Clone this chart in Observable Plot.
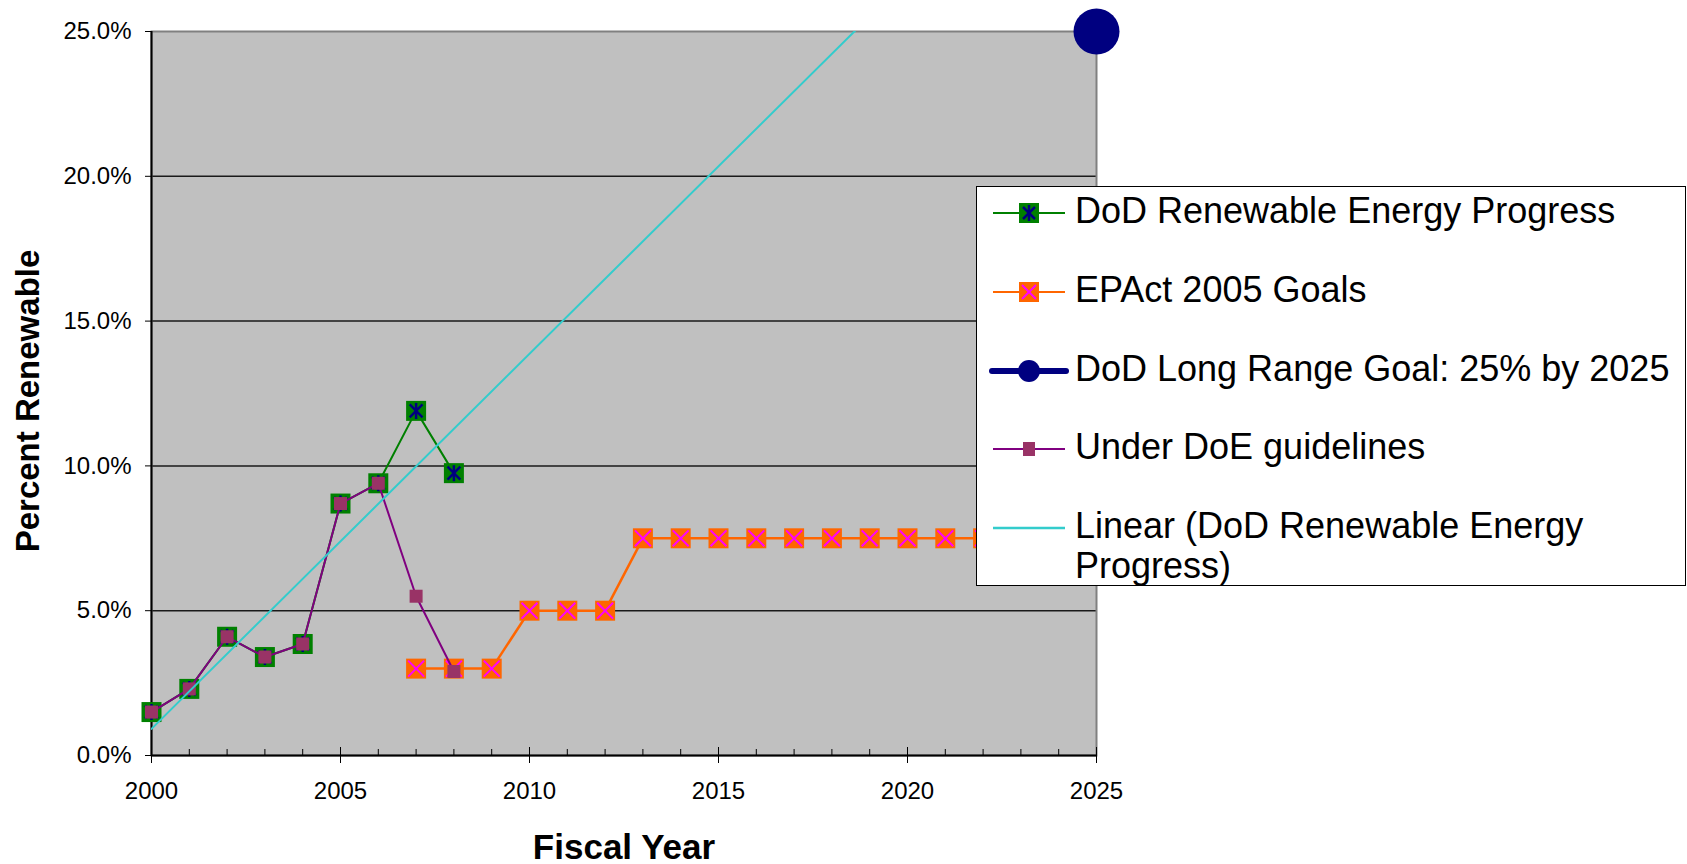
<!DOCTYPE html>
<html><head><meta charset="utf-8">
<script src="https://cdn.jsdelivr.net/npm/d3@7"></script>
<script src="https://cdn.jsdelivr.net/npm/@observablehq/plot@0.6"></script>
<style>
html,body{margin:0;padding:0;background:#fff;overflow:hidden;}
#wrap{position:relative;width:1687px;height:864px;font-family:"Liberation Sans",Arial,sans-serif;color:#000;}
#chart svg{display:block;}
.ttl{position:absolute;font-weight:bold;font-size:35px;line-height:35px;white-space:nowrap;transform:translate(-50%,-50%);}
#ytitle{font-size:33px;line-height:33px;transform:translate(-50%,-50%) rotate(-90deg);}
#legend{position:absolute;left:976px;top:186px;width:710px;height:400px;box-sizing:border-box;border:1.5px solid #000;background:#fff;overflow:hidden;}
.row{position:absolute;left:0;width:705px;height:40px;}
.row svg{position:absolute;left:12px;top:2px;overflow:visible;}
.row span{position:absolute;left:98px;top:0;line-height:40px;font-size:36px;white-space:nowrap;}
</style></head>
<body>
<div id="wrap">
  <div id="chart"></div>
  <div class="ttl" id="ytitle" style="left:27px;top:401px;">Percent Renewable</div>
  <div class="ttl" style="left:624px;top:846px;">Fiscal Year</div>
  <div id="legend"></div>
</div>
<script>
// ---- data ----
const dodYears = [2000, 2001, 2002, 2003, 2004, 2005, 2006, 2007, 2008];
const dodProgress = [1.5, 2.3, 4.1, 3.4, 3.85, 8.7, 9.4, 11.9, 9.75];
const doeGuidelines = [1.5, 2.3, 4.1, 3.4, 3.85, 8.7, 9.4, 5.5, 2.9];
const epactYears = [2007, 2008, 2009, 2010, 2011, 2012, 2013, 2014, 2015, 2016, 2017, 2018, 2019, 2020, 2021, 2022, 2023, 2024, 2025];
const epactGoals = [3, 3, 3, 5, 5, 5, 7.5, 7.5, 7.5, 7.5, 7.5, 7.5, 7.5, 7.5, 7.5, 7.5, 7.5, 7.5, 7.5];
const goalYears = [2025];
const goalValues = [25];
const allYears = [2000,2001,2002,2003,2004,2005,2006,2007,2008,2009,2010,2011,2012,2013,2014,2015,2016,2017,2018,2019,2020,2021,2022,2023,2024,2025];
const xTicks = [2000, 2005, 2010, 2015, 2020, 2025];
const yTicks = [0, 5, 10, 15, 20, 25];
const gridValues = [5, 10, 15, 20];
const seriesNames = ["DoD Renewable Energy Progress", "EPAct 2005 Goals", "DoD Long Range Goal: 25% by 2025", "Under DoE guidelines", "Linear (DoD Renewable Energy Progress)"];

const colors = {green:"#008000", navy:"#000080", orange:"#FF6600", magenta:"#FF00FF", purple:"#800080", maroon:"#993366", cyan:"#33CCCC"};

const dod = dodYears.map((x, i) => ({x, y: dodProgress[i]}));
const doe = dodYears.map((x, i) => ({x, y: doeGuidelines[i]}));
const epact = epactYears.map((x, i) => ({x, y: epactGoals[i]}));
const goal = goalYears.map((x, i) => ({x, y: goalValues[i]}));

// least-squares trend of DoD progress (Excel linear trendline), extended forward
const mx = d3.mean(dodYears), my = d3.mean(dodProgress);
const slope = d3.sum(dodYears, (x, i) => (x - mx) * (dodProgress[i] - my)) / d3.sum(dodYears, x => (x - mx) ** 2);
const icpt = my - slope * mx;
const trend = [2000, 2025].map(x => ({x, y: icpt + slope * x}));

const sq = side => side / Math.sqrt(Math.PI);

// Excel-style star marker: vertical bar plus an X
const excelStar = {
  draw(ctx, size) {
    const r = Math.sqrt(size / Math.PI);
    ctx.moveTo(0, -r); ctx.lineTo(0, r);
    ctx.moveTo(-0.8 * r, -0.8 * r); ctx.lineTo(0.8 * r, 0.8 * r);
    ctx.moveTo(-0.8 * r, 0.8 * r); ctx.lineTo(0.8 * r, -0.8 * r);
  }
};

const chart = Plot.plot({
  width: 1687, height: 864,
  marginLeft: 151, marginRight: 591, marginTop: 31, marginBottom: 109,
  style: {fontFamily: "'Liberation Sans', Arial, sans-serif", fontSize: "24px", color: "#000", background: "transparent", overflow: "visible"},
  x: {domain: [2000, 2025]},
  y: {domain: [0, 25]},
  marks: [
    Plot.frame({fill: "#C0C0C0"}),
    Plot.ruleY(gridValues, {stroke: "#1a1a1a", strokeWidth: 1.5}),
    Plot.frame({stroke: "#808080", strokeWidth: 2}),
    Plot.ruleX([2000], {stroke: "#000", strokeWidth: 2}),
    Plot.ruleY([0], {stroke: "#000", strokeWidth: 2}),
    Plot.tickX(allYears, {x: d => d, stroke: "#000", strokeWidth: 1, insetTop: 718}),
    Plot.tickX(xTicks, {x: d => d, stroke: "#000", strokeWidth: 1, insetTop: 716}),
    Plot.axisX({ticks: xTicks, tickFormat: "d", tickSize: 8, tickPadding: 18, label: null}),
    Plot.axisY({ticks: yTicks, tickFormat: d => d.toFixed(1) + "%", tickSize: 6, tickPadding: 14, label: null}),
    // DoD progress
    Plot.line(dod, {x: "x", y: "y", stroke: colors.green, strokeWidth: 2}),
    Plot.dot(dod, {x: "x", y: "y", symbol: "square", fill: colors.green, r: sq(20)}),
    Plot.dot(dod, {x: "x", y: "y", symbol: excelStar, fill: "none", stroke: colors.navy, strokeWidth: 2.5, r: 8}),
    // EPAct goals
    Plot.line(epact, {x: "x", y: "y", stroke: colors.orange, strokeWidth: 2.5}),
    Plot.dot(epact, {x: "x", y: "y", symbol: "square", fill: colors.orange, r: sq(20)}),
    Plot.dot(epact, {x: "x", y: "y", symbol: "times", stroke: colors.magenta, strokeWidth: 2, r: 7.3}),
    // Long range goal
    Plot.dot(goal, {x: "x", y: "y", fill: colors.navy, r: 23}),
    // DoE guidelines
    Plot.line(doe, {x: "x", y: "y", stroke: colors.purple, strokeWidth: 2}),
    Plot.dot(doe, {x: "x", y: "y", symbol: "square", fill: colors.maroon, r: sq(13)}),
    // Linear trend
    Plot.line(trend, {x: "x", y: "y", stroke: colors.cyan, strokeWidth: 2, clip: true})
  ]
});
document.getElementById("chart").appendChild(chart);

// ---- legend ----
const swatches = [
  `<line x1="4" x2="76" y1="20" y2="20" stroke="${colors.green}" stroke-width="2"/><rect x="30" y="10" width="20" height="20" fill="${colors.green}"/><g stroke="${colors.navy}" stroke-width="2.5"><line x1="40" x2="40" y1="12" y2="28"/><line x1="34" x2="46" y1="14" y2="26"/><line x1="34" x2="46" y1="26" y2="14"/></g>`,
  `<line x1="4" x2="76" y1="20" y2="20" stroke="${colors.orange}" stroke-width="2"/><rect x="30" y="10" width="20" height="20" fill="${colors.orange}"/><g stroke="${colors.magenta}" stroke-width="2"><line x1="33" x2="47" y1="13" y2="27"/><line x1="33" x2="47" y1="27" y2="13"/></g>`,
  `<line x1="3" x2="77" y1="20" y2="20" stroke="${colors.navy}" stroke-width="6" stroke-linecap="round"/><circle cx="40" cy="20" r="11" fill="${colors.navy}"/>`,
  `<line x1="4" x2="76" y1="20" y2="20" stroke="${colors.purple}" stroke-width="2"/><rect x="34" y="13" width="12" height="14" fill="${colors.maroon}"/>`,
  `<line x1="4" x2="76" y1="20" y2="20" stroke="${colors.cyan}" stroke-width="2.5"/>`
];
const rowTops = [4, 83, 162, 240, 319];
const legend = document.getElementById("legend");
seriesNames.forEach((name, i) => {
  const row = document.createElement("div");
  row.className = "row";
  row.style.top = rowTops[i] + "px";
  const label = i === 4 ? "Linear (DoD Renewable Energy<br>Progress)" : name;
  row.innerHTML = `<svg width="80" height="40">${swatches[i]}</svg><span>${label}</span>`;
  legend.appendChild(row);
});
</script>
</body></html>
